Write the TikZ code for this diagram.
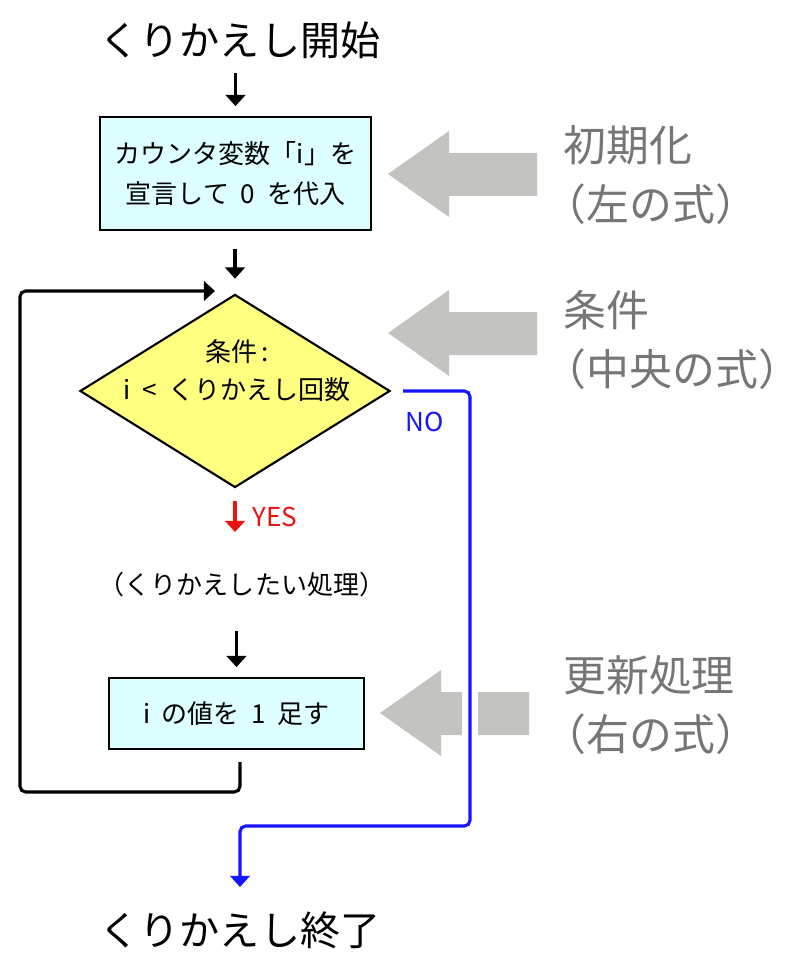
\documentclass[tikz,border=0pt]{standalone}
\usepackage{fontspec}
\setmainfont{Noto Sans CJK JP}
\usetikzlibrary{arrows.meta,shapes.geometric,positioning}

\definecolor{boxcyan}{HTML}{DDFFFF}
\definecolor{condyellow}{HTML}{FFFF80}
\definecolor{hintgray}{HTML}{C3C4C0}
\definecolor{hinttext}{HTML}{767676}
\definecolor{noblue}{HTML}{1414FF}
\definecolor{yesred}{HTML}{EE1111}

\newcommand\gapsp{\hspace{0.45em}}

\tikzset{
  title/.style={inner sep=0pt, font=\fontsize{28.5}{34}\selectfont},
  proc/.style={draw, line width=1.5pt, fill=boxcyan, align=center, inner sep=0pt,
    font=\fontsize{18.5}{28.5}\selectfont},
  cond/.style={diamond, draw, line width=1.5pt, fill=condyellow, inner sep=0pt,
    minimum width=7.75cm, minimum height=4.825cm},
  plain/.style={inner sep=0pt, align=center, font=\fontsize{18.5}{27}\selectfont},
  hintlabel/.style={anchor=west, align=left, inner sep=0pt, text=hinttext,
    font=\fontsize{30.5}{42.5}\selectfont},
  hint/.style={fill=hintgray},
  flow/.style={line width=2.2pt, -{Triangle[length=8pt,width=14pt]}},
  yesflow/.style={flow, yesred},
  noflow/.style={line width=2.2pt, noblue, rounded corners=4pt, -{Triangle[length=8pt,width=14pt]}},
}

\begin{document}
\begin{tikzpicture}[x=0.025cm,y=-0.025cm]
  \useasboundingbox (0,0) rectangle (800,977);

  % gray hint arrows
  \foreach \tx/\ty/\bx/\ex in {388/174/449/537, 388/333/449/537, 380/713/441/529}
    \fill[hint] (\tx,\ty) -- (\bx,\ty-43) -- (\bx,\ty-21) -- (\ex,\ty-21)
      -- (\ex,\ty+22) -- (\bx,\ty+22) -- (\bx,\ty+43) -- cycle;

  \node[title] (start) at (240,40) {くりかえし開始};
  \node[proc, minimum width=6.775cm, minimum height=2.825cm] (init) at (235.5,173.5)
    {カウンタ変数「i」を\\宣言して\gapsp 0\gapsp を代入};
  \node[cond] (test) at (235,391) {};
  \node[plain, font=\fontsize{18.5}{27}\selectfont] (testtxt) at (237,371)
    {条件\,:\\i\gapsp <\gapsp くりかえし回数};
  \node[plain] (body) at (242,585) {（くりかえしたい処理）};
  \node[proc, minimum width=6.375cm, minimum height=1.775cm] (incr) at (236.5,713.5)
    {i\gapsp の値を\gapsp 1\gapsp 足す};
  \node[title] (finish) at (240,930) {くりかえし終了};

  \node[hintlabel] (initlbl) at (563,175) {初期化\\\hspace*{-0.45em}（左の式）};
  \node[hintlabel] (condlbl) at (563,340) {条件\\\hspace*{-0.45em}（中央の式）};
  \node[hintlabel] (incrlbl) at (563,705) {更新処理\\\hspace*{-0.45em}（右の式）};

  \coordinate (yestip) at (235,532);
  \coordinate (loopstart) at (240,762);
  \coordinate (looptip) at (215,291);
  \coordinate (endtip) at (240,887);

  % main flow
  \draw[flow, shorten <=10pt, shorten >=7pt] (start.south -| init.north) -- (init.north);
  \draw[flow, shorten <=13pt, shorten >=10.5pt] (init.south -| test.north) -- (test.north);
  \draw[yesflow, shorten <=9pt] (test.south) -- (yestip);
  \node[anchor=west, inner sep=0pt, text=yesred, font=\fontsize{18.5}{20}\selectfont]
    (yeslbl) at (252,517) {YES};
  \draw[flow, shorten <=24pt, shorten >=7pt] (body.south -| incr.north) -- (incr.north);

  % back to the test
  \draw[flow, rounded corners=4pt] (loopstart) -- (240,792) -- (20,792) -- (20,291) -- (looptip);

  % exit
  \draw[white, line width=12pt] (470,665) -- (470,760);
  \draw[noflow, shorten <=8.5pt] (test.east) -- (470,391) -- (470,826) -- (240,826) -- (endtip);
  \node[inner sep=0pt, text=noblue, font=\fontsize{18.5}{20}\selectfont] (nolbl) at (425,422) {NO};
\end{tikzpicture}
\end{document}
